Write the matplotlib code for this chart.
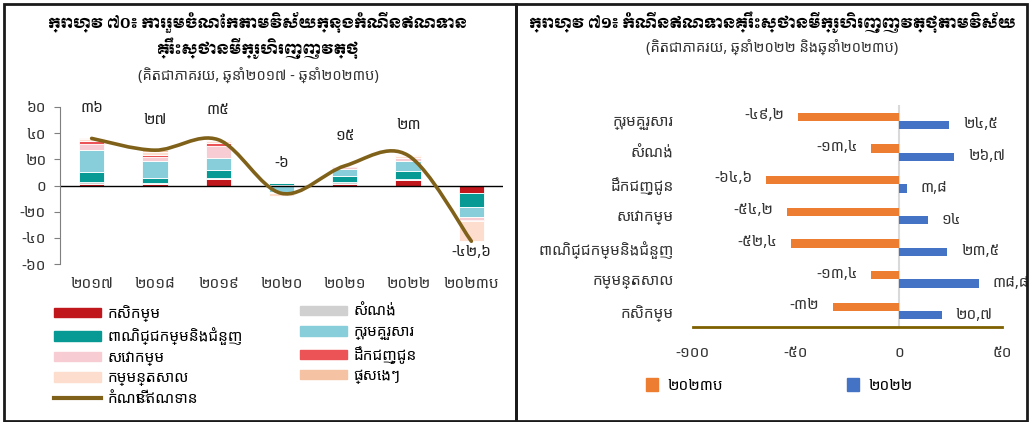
import numpy as np
import matplotlib
matplotlib.use("Agg")
import matplotlib.pyplot as plt
from matplotlib.path import Path
from matplotlib.patches import PathPatch, Patch, Rectangle
from matplotlib.lines import Line2D

BODY = ['Noto Sans Khmer', 'DejaVu Sans']
TITLE = ['Moul', 'Noto Sans Khmer', 'DejaVu Sans']
plt.rcParams['font.family'] = BODY

KH = str.maketrans('0123456789.', '០១២៣៤៥៦៧៨៩,')
def kh(v):
    s = ('%g' % v) if not isinstance(v, str) else v
    return s.translate(KH)

# ---- data, chart 70 ----
years = ['2017', '2018', '2019', '2020', '2021', '2022', '2023ប']
agri = [1.5, 0.8, 5.0, 0.3, 1.5, 4.0, -5.6]
construction = [1.5, 1.2, 1.0, 0.2, 1.0, 1.0, 0.0]
trade = [7.0, 3.8, 6.0, 1.2, 4.6, 5.8, -11.0]
households = [17.5, 12.7, 9.4, -5.0, 5.8, 8.1, -7.4]
services = [4.5, 3.3, 8.9, -0.5, 1.5, 2.0, -2.5]
transport = [1.8, 1.5, 2.5, -0.2, 0.3, 0.5, -0.8]
manufacturing = [1.5, 2.5, 1.3, -2.0, 0.5, 1.3, -15.3]
others = [0.7, 1.0, 0.5, 0.0, 0.0, 0.3, 0.0]
growth = [36, 27, 35, -6, 15, 23, -42.6]

# ---- data, chart 71 ----
sectors = ['ក្រុមគ្រួសារ', 'សំណង់', 'ដឹកជញ្ជូន', 'សេវាកម្ម',
           'ពាណិជ្ជកម្មនិងជំនួញ', 'កម្មន្តសាល', 'កសិកម្ម']
g2023 = [-49.2, -13.4, -64.6, -54.2, -52.4, -13.4, -32]
g2022 = [24.5, 26.7, 3.8, 14, 23.5, 38.8, 20.7]

W, H = 1031, 422
fig = plt.figure(figsize=(W / 100, H / 100), dpi=100)

def fx(px): return px / W
def fy(py): return 1 - py / H

# frames
for x0, x1 in [(4, 516), (516, 1027)]:
    fig.add_artist(Rectangle((fx(x0), fy(421)), fx(x1 - x0), fy(4) - fy(421),
                             fill=False, ec='#1a1a1a', lw=2, transform=fig.transFigure))

# ---------- left chart ----------
ax = fig.add_axes([fx(60), fy(264), fx(443), fy(107) - fy(264)])
series = [
    ('កសិកម្ម', agri, '#C0171C'),
    ('សំណង់', construction, '#D0D0D0'),
    ('ពាណិជ្ជកម្មនិងជំនួញ', trade, '#079A95'),
    ('ក្រុមគ្រួសារ', households, '#88CEDA'),
    ('សេវាកម្ម', services, '#F7CDD3'),
    ('ដឹកជញ្ជូន', transport, '#EB5356'),
    ('កម្មន្តសាល', manufacturing, '#FCDDCE'),
    ('ផ្សេងៗ', others, '#F6C2A4'),
]
x = np.arange(len(years))
pos = np.zeros(len(years))
neg = np.zeros(len(years))
for name, vals, col in series:
    v = np.array(vals)
    bottom = np.where(v >= 0, pos, neg)
    ax.bar(x, v, 0.4, bottom=bottom, color=col, edgecolor='white', linewidth=0.6)
    pos += np.where(v >= 0, v, 0)
    neg += np.where(v < 0, v, 0)

# smoothed growth line (Bezier through the points)
gy = np.array(growth, dtype=float)
verts = [(x[0], gy[0])]
codes = [Path.MOVETO]
n = len(x)
for i in range(n - 1):
    p0 = np.array([x[max(i - 1, 0)], gy[max(i - 1, 0)]])
    p1 = np.array([x[i], gy[i]])
    p2 = np.array([x[i + 1], gy[i + 1]])
    p3 = np.array([x[min(i + 2, n - 1)], gy[min(i + 2, n - 1)]])
    c1 = p1 + (p2 - p0) / 6
    c2 = p2 - (p3 - p1) / 6
    verts += [tuple(c1), tuple(c2), tuple(p2)]
    codes += [Path.CURVE4] * 3
line_col = '#7F611A'
ax.add_patch(PathPatch(Path(verts, codes), fill=False, ec=line_col, lw=2.6,
                       capstyle='round', zorder=5))
for i, g in enumerate(growth):
    ty = g - 8.5 if i == n - 1 else g + 22.5
    ax.text(x[i], ty, kh(g), ha='center', va='center', fontsize=11, color='#222222')

ax.axhline(0, color='black', lw=1)
ax.set_xlim(-0.5, 6.5)
ax.set_ylim(-60, 60)
yt = [-60, -40, -20, 0, 20, 40, 60]
ax.set_yticks(yt)
ax.set_yticklabels([kh(t) for t in yt], fontsize=11)
ax.set_xticks(x)
ax.set_xticklabels([kh(y) for y in years], fontsize=11)
for s in ['top', 'right', 'bottom']:
    ax.spines[s].set_visible(False)
ax.spines['left'].set_color('#7f7f7f')
ax.tick_params(axis='y', length=4, color='#7f7f7f', pad=6, labelcolor='#333333')
ax.tick_params(axis='x', length=0, pad=9, labelcolor='#333333')

h = [Patch(color=c) for _, _, c in series]
lab = [s[0] for s in series]
leg_kw = dict(frameon=False, fontsize=11, handlelength=3.1, handleheight=0.55,
              labelspacing=0.36, handletextpad=0.4, borderaxespad=0, borderpad=0)
fig.legend([h[0], h[2], h[4], h[6], Line2D([], [], color=line_col, lw=3)],
           [lab[0], lab[2], lab[4], lab[6], 'កំណើនឥណទាន'],
           loc='upper left', bbox_to_anchor=(fx(54), fy(305)), **leg_kw)
fig.legend([h[1], h[3], h[5], h[7]], [lab[1], lab[3], lab[5], lab[7]],
           loc='upper left', bbox_to_anchor=(fx(300), fy(305)), **leg_kw)

fig.text(fx(258), fy(22), 'ក្រាហ្វ ៧០៖ ការរួមចំណែកតាមវិស័យក្នុងកំណើនឥណទាន',
         ha='center', va='center', fontsize=10.3, family=TITLE)
fig.text(fx(258), fy(48), 'គ្រឹះស្ថានមីក្រូហិរញ្ញវត្ថុ',
         ha='center', va='center', fontsize=10.3, family=TITLE)
fig.text(fx(258), fy(76), '(គិតជាភាគរយ, ឆ្នាំ២០១៧ - ឆ្នាំ២០២៣ប)',
         ha='center', va='center', fontsize=10.5, color='#333333')

# ---------- right chart ----------
bx = fig.add_axes([fx(693), fy(327), fx(309), fy(105) - fy(327)])
yy = np.arange(len(sectors))
bx.barh(yy - 0.13, g2023, 0.26, color='#ED7D31')
bx.barh(yy + 0.13, g2022, 0.26, color='#4472C4')
bx.set_ylim(len(sectors) - 0.5, -0.5)
bx.set_xlim(-100, 50)
bx.axvline(0, color='#D9D9D9', lw=1.5, zorder=0)
for i in range(len(sectors)):
    bx.annotate(kh(g2023[i]), (g2023[i], yy[i] - 0.17), xytext=(-10, 0),
                textcoords='offset points', ha='right', va='center', fontsize=11,
                color='#333333', annotation_clip=False)
    bx.annotate(kh(g2022[i]), (g2022[i], yy[i] + 0.13), xytext=(10, 0),
                textcoords='offset points', ha='left', va='center', fontsize=11,
                color='#333333', annotation_clip=False)
bx.set_yticks(yy)
bx.set_yticklabels(sectors, fontsize=11)
xt = [-100, -50, 0, 50]
bx.set_xticks(xt)
bx.set_xticklabels([kh(t) for t in xt], fontsize=11)
for s in ['top', 'right', 'left']:
    bx.spines[s].set_visible(False)
bx.spines['bottom'].set_color('#7F6000')
bx.spines['bottom'].set_linewidth(2)
bx.tick_params(axis='y', length=0, pad=14, labelcolor='#333333')
bx.tick_params(axis='x', length=0, pad=14, labelcolor='#333333')

sq_kw = dict(loc='center left', frameon=False, fontsize=11, handlelength=0.8,
             handleheight=0.9, handletextpad=0.6, borderpad=0, borderaxespad=0)
fig.legend([Patch(color='#ED7D31')], ['២០២៣ប'], bbox_to_anchor=(fx(646), fy(386)), **sq_kw)
fig.legend([Patch(color='#4472C4')], ['២០២២'], bbox_to_anchor=(fx(847), fy(386)), **sq_kw)

fig.text(fx(772), fy(22), 'ក្រាហ្វ ៧១៖ កំណើនឥណទានគ្រឹះស្ថានមីក្រូហិរញ្ញវត្ថុតាមវិស័យ',
         ha='center', va='center', fontsize=10.3, family=TITLE)
fig.text(fx(772), fy(48), '(គិតជាភាគរយ, ឆ្នាំ២០២២ និងឆ្នាំ២០២៣ប)',
         ha='center', va='center', fontsize=10.5, color='#333333')

fig.savefig('out.png', dpi=100)
